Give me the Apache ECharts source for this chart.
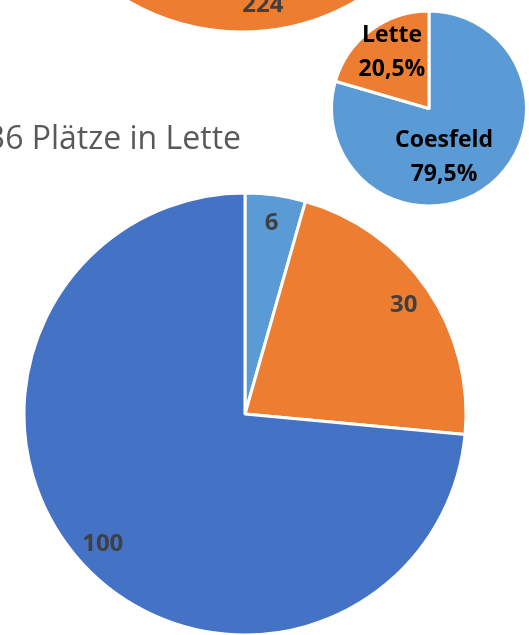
<!DOCTYPE html>
<html>
<head>
<meta charset="utf-8">
<style>
  html, body { margin: 0; padding: 0; background: #ffffff; }
  #chart { width: 529px; height: 635px; }
</style>
<script src="https://cdn.jsdelivr.net/npm/echarts@6/dist/echarts.min.js"></script>
</head>
<body>
<div id="chart"></div>
<script>
// ---- data ----
const titleText = '36 Plätze in Lette';

const topNames = ['Plätze'];
const topValues = [224];

const shareNames = ['Coesfeld', 'Lette'];
const sharePercents = [79.5, 20.5];

const detailNames = ['Teil 1', 'Teil 2', 'Teil 3'];
const detailValues = [6, 30, 100];

// ---- styles ----
const C_LIGHTBLUE = '#5B9BD5';
const C_ORANGE = '#ED7D31';
const C_BLUE = '#4472C4';
const LABEL_FONT = '"Open Sans", "DejaVu Sans", sans-serif';

const chart = echarts.init(document.getElementById('chart'), null, { renderer: 'canvas' });

function fmtPct(v) { return v.toFixed(1).replace('.', ',') + '%'; }

const topColors = [C_ORANGE];
const shareColors = [C_LIGHTBLUE, C_ORANGE];
const detailColors = [C_LIGHTBLUE, C_ORANGE, C_BLUE];

const topCenter = [242, -194];
const topR = 226;
const bigCenter = [245, 414];
const bigR = 221;
const smallCenter = [429, 108.5];
const smallR = 97.5;

const baseLabel = {
  fontFamily: LABEL_FONT, fontWeight: 'bold', fontSize: 24, color: '#404040'
};

function pieSeries(names, values, colors, center, r, startAngle) {
  return {
    type: 'pie', center: center, radius: [0, r], startAngle: startAngle, clockwise: true,
    silent: true, animation: false, avoidLabelOverlap: false, minShowLabelAngle: 0,
    labelLayout: { hideOverlap: false },
    label: { show: false }, labelLine: { show: false },
    emphasis: { disabled: true },
    itemStyle: { borderColor: '#ffffff', borderWidth: 3 },
    data: values.map((v, i) => ({ name: names[i], value: v, itemStyle: { color: colors[i] } }))
  };
}
function labelRing(names, values, center, r0, r, startAngle) {
  return {
    type: 'pie', center: center, radius: [r0, r], startAngle: startAngle, clockwise: true,
    silent: true, animation: false, avoidLabelOverlap: false, minShowLabelAngle: 0,
    labelLayout: { hideOverlap: false }, labelLine: { show: false },
    emphasis: { disabled: true },
    itemStyle: { color: 'rgba(0,0,0,0)', borderWidth: 0 },
    label: Object.assign({ show: true, position: 'inside', formatter: '{c}' }, baseLabel),
    data: values.map((v, i) => ({ name: names[i], value: v }))
  };
}

const topStart = 96;
const tStyle = { fontFamily: LABEL_FONT, fontWeight: 'bold', fontSize: 23, lineHeight: 34, color: '#000000' };
const shareRich = {
  t: tStyle,
  w10: { width: 10, fontSize: 1 }, w32: { width: 32, fontSize: 1 },
  s16: { fontSize: 1, lineHeight: 16, height: 16 }
};

// slices of the share pie, label for Coesfeld (nudged like the original)
const smallSeries = pieSeries(shareNames, sharePercents, shareColors, smallCenter, smallR, 90);
smallSeries.label = {
  show: true, position: 'inside', rich: shareRich,
  formatter: p => '{s16| }\n{t|' + p.name + '}{w32| }\n{t|' + fmtPct(p.value) + '}{w32| }'
};
smallSeries.data[1].label = { show: false };

// label ring for the Lette share (label sits further out, as in the original)
const smallRing = labelRing(shareNames, sharePercents, smallCenter, 0, 134, 90);
smallRing.label = {
  show: true, position: 'inside', rich: shareRich,
  formatter: p => '{w10| }{t|' + p.name + '}\n{w10| }{t|' + fmtPct(p.value) + '}'
};
smallRing.data[0].label = { show: false };

chart.setOption({
  backgroundColor: '#ffffff',
  title: {
    text: titleText, right: 288, top: 121, padding: 0,
    textStyle: { fontFamily: '"Open Sans", sans-serif', fontWeight: 'normal', fontSize: 32, lineHeight: 38, color: '#595959' }
  },
  series: [
    pieSeries(topNames, topValues, topColors, topCenter, topR, topStart),
    labelRing(topNames, topValues, topCenter, 168, topR, topStart),
    smallSeries,
    smallRing,
    pieSeries(detailNames, detailValues, detailColors, bigCenter, bigR, 90),
    labelRing(detailNames, detailValues, bigCenter, 158, bigR, 90)
  ]
});
</script>
</body>
</html>
